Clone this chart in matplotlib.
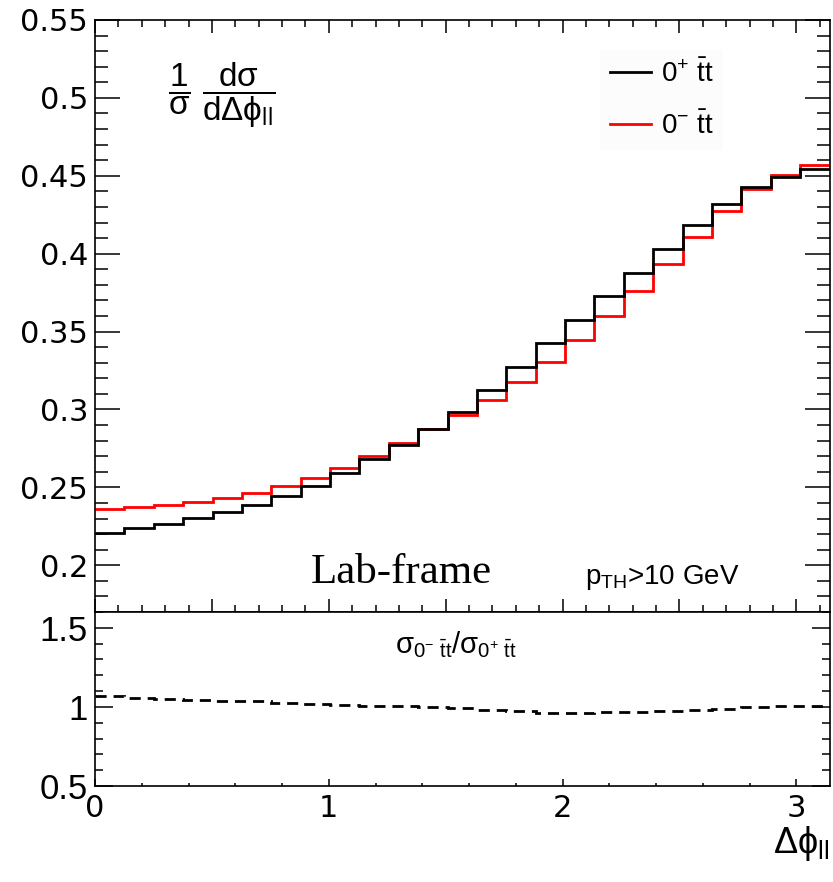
import numpy as np
import matplotlib
matplotlib.use("Agg")
import matplotlib.pyplot as plt
from matplotlib.ticker import MultipleLocator, FixedLocator, NullFormatter, FuncFormatter
from matplotlib.lines import Line2D

plt.rcParams['font.family'] = ['Liberation Sans', 'DejaVu Sans']
plt.rcParams['mathtext.fontset'] = 'custom'
plt.rcParams['mathtext.rm'] = 'Liberation Sans'
plt.rcParams['mathtext.it'] = 'Liberation Sans'
plt.rcParams['mathtext.sf'] = 'Liberation Sans'
plt.rcParams['mathtext.default'] = 'regular'

# ---- data ----
n_bins = 25
x_max = np.pi
scalar_0p = [0.2208, 0.2240, 0.2268, 0.2305, 0.2339, 0.2384, 0.2443, 0.2510, 0.2594,
             0.2684, 0.2771, 0.2872, 0.2985, 0.3127, 0.3270, 0.3427, 0.3576, 0.3726,
             0.3879, 0.4033, 0.4185, 0.4322, 0.4425, 0.4494, 0.4541]
pseudo_0m = [0.2364, 0.2373, 0.2388, 0.2407, 0.2433, 0.2467, 0.2506, 0.2562, 0.2626,
             0.2700, 0.2782, 0.2872, 0.2962, 0.3062, 0.3176, 0.3305, 0.3446, 0.3600,
             0.3763, 0.3934, 0.4110, 0.4277, 0.4414, 0.4508, 0.4568]
legend_labels = [r'$0^{+}\ \bar{t}t$', r'$0^{-}\ \bar{t}t$']

edges = np.linspace(0, x_max, n_bins + 1)
black = np.array(scalar_0p)
red = np.array(pseudo_0m)
ratio = red / black

W, H = 833, 882
fig = plt.figure(figsize=(W / 100, H / 100), dpi=100)

L, R = 95, 829.5
def rect(top, bottom):
    return [L / W, 1 - bottom / H, (R - L) / W, (bottom - top) / H]

ax = fig.add_axes(rect(20, 612))
axr = fig.add_axes(rect(612, 786))

for a in (ax, axr):
    for s in a.spines.values():
        s.set_linewidth(1.2)

# ---- main panel ----
ax.stairs(black, edges, baseline=None, color='black', lw=2.0, zorder=3)
ax.stairs(red, edges, baseline=None, color='#ff0000', lw=2.0, zorder=2)
ax.set_xlim(0, x_max)
ax.set_ylim(0.17, 0.55)
ax.xaxis.set_major_locator(MultipleLocator(0.5))
ax.xaxis.set_minor_locator(MultipleLocator(0.1))
ax.xaxis.set_major_formatter(NullFormatter())
ax.yaxis.set_major_locator(MultipleLocator(0.05))
ax.yaxis.set_minor_locator(MultipleLocator(0.01))
ax.yaxis.set_major_formatter(FuncFormatter(lambda v, p: f"{v:.2f}".rstrip('0').rstrip('.')))
ax.tick_params(axis='x', which='both', direction='in', top=True, bottom=True, width=1.1)
ax.tick_params(axis='x', which='major', length=9.4)
ax.tick_params(axis='x', which='minor', length=4.7)
ax.tick_params(axis='y', which='both', direction='in', left=True, right=True, width=1.1)
ax.tick_params(axis='y', which='major', length=18, labelsize=22, pad=5)
ax.tick_params(axis='y', which='minor', length=9.4)
for t in ax.get_yticklabels():
    t.set_fontfamily('DejaVu Sans')

handles = [Line2D([], [], color='black', lw=2.0), Line2D([], [], color='#ff0000', lw=2.0)]
leg = ax.legend(handles, legend_labels, loc='upper left',
                bbox_to_anchor=((600 - L) / (R - L), (612 - 50) / 592),
                frameon=True, fancybox=False, framealpha=1, facecolor='#fcfcfc',
                edgecolor='none', fontsize=20, handlelength=1.5, handletextpad=0.35,
                labelspacing=0.85, borderpad=0.35, borderaxespad=0)

ax.text((168 - L) / (R - L), (612 - 95) / 592,
        r'$\dfrac{1}{\sigma}\ \dfrac{d\sigma}{d\Delta\phi_{ll}}$',
        transform=ax.transAxes, fontsize=24, ha='left', va='center')
ax.text((311 - L) / (R - L), (612 - 573) / 592, 'Lab-frame',
        transform=ax.transAxes, fontsize=31, family='Liberation Serif',
        ha='left', va='center')
ax.text((585 - L) / (R - L), (612 - 577) / 592, r'$p_{TH}$>10 GeV',
        transform=ax.transAxes, fontsize=20, ha='left', va='center')

# ---- ratio panel ----
axr.stairs(ratio, edges, baseline=None, color='black', lw=2.0, linestyle=(0, (4, 2.5)))
axr.set_xlim(0, x_max)
axr.set_ylim(0.5, 1.6)
axr.xaxis.set_major_locator(MultipleLocator(1))
axr.xaxis.set_minor_locator(MultipleLocator(0.2))
axr.yaxis.set_major_locator(FixedLocator([0.5, 1.0, 1.5]))
axr.yaxis.set_minor_locator(MultipleLocator(0.1))
axr.yaxis.set_major_formatter(FuncFormatter(lambda v, p: f"{v:g}"))
axr.tick_params(axis='x', which='both', direction='in', top=False, bottom=True, width=1.1)
axr.tick_params(axis='x', which='major', length=5, labelsize=22, pad=6)
axr.tick_params(axis='x', which='minor', length=2.3)
axr.tick_params(axis='y', which='both', direction='in', left=True, right=True, width=1.1)
axr.tick_params(axis='y', which='major', length=13, labelsize=25, pad=5)
axr.tick_params(axis='y', which='minor', length=5.8)
for t in axr.get_xticklabels():
    t.set_fontfamily('DejaVu Sans')

axr.text((456 - L) / (R - L), (786 - 645) / 174,
         r'$\sigma_{0^{-}\ \bar{t}t}/\sigma_{0^{+}\ \bar{t}t}$',
         transform=axr.transAxes, fontsize=21, ha='center', va='center')

fig.text(R / W, 1 - 824 / H, r'$\Delta\phi_{ll}$', fontsize=26,
         ha='right', va='top')

fig.savefig('out.png', dpi=100)
